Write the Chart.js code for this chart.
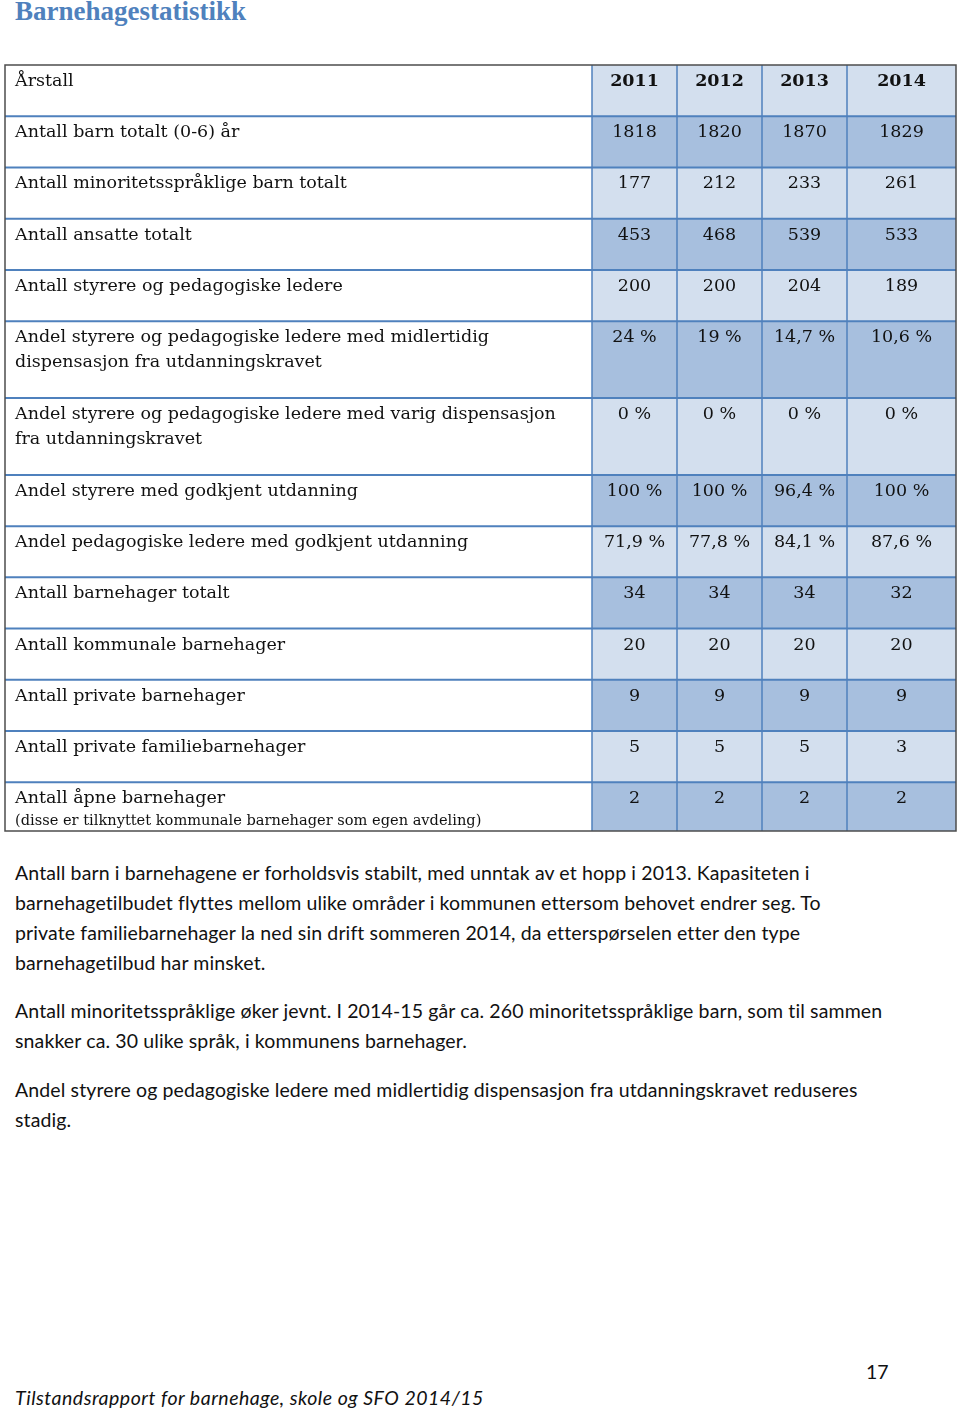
<!DOCTYPE html>
<html lang="no">
<head>
<meta charset="utf-8">
<title>Barnehagestatistikk</title>
<script src="https://cdn.jsdelivr.net/npm/chart.js@4.4.1/dist/chart.umd.min.js"></script>
<style>
  html, body { margin: 0; padding: 0; background: #fff; }
  body { position: relative; width: 960px; height: 1411px; overflow: hidden; color: #111; }
  h1 { position: absolute; left: 15px; top: -4px; margin: 0; font: bold 27px "Liberation Serif", serif; color: #4f81bd; }
  #tableBox { position: absolute; left: 4px; top: 64px; width: 953px; height: 768px; }
  .para { position: absolute; left: 15px; margin: 0; font: 19.5px Lato, sans-serif; line-height: 30px; white-space: nowrap; letter-spacing: 0.12px; }
  .foot { position: absolute; margin: 0; font: 19.5px Lato, sans-serif; line-height: 30px; white-space: nowrap; }
</style>
</head>
<body>
<h1>Barnehagestatistikk</h1>
<div id="tableBox"><canvas id="tableChart" width="953" height="768"></canvas></div>

<p class="para" style="top:858px">Antall barn i barnehagene er forholdsvis stabilt, med unntak av et hopp i 2013. Kapasiteten i<br>barnehagetilbudet flyttes mellom ulike områder i kommunen ettersom behovet endrer seg. To<br>private familiebarnehager la ned sin drift sommeren 2014, da etterspørselen etter den type<br>barnehagetilbud har minsket.</p>
<p class="para" style="top:996px">Antall minoritetsspråklige øker jevnt. I 2014-15 går ca. 260 minoritetsspråklige barn, som til sammen<br>snakker ca. 30 ulike språk, i kommunens barnehager.</p>
<p class="para" style="top:1075px">Andel styrere og pedagogiske ledere med midlertidig dispensasjon fra utdanningskravet reduseres<br>stadig.</p>

<p class="foot" style="left:866px; top:1357px">17</p>
<p class="foot" style="left:15px; top:1383px; font-style:italic; letter-spacing:0.5px">Tilstandsrapport for barnehage, skole og SFO 2014/15</p>

<script>
const headerLabel = 'Årstall';
const years = ['2011', '2012', '2013', '2014'];

const rowLabels = [
  ['Antall barn totalt (0-6) år'],
  ['Antall minoritetsspråklige barn totalt'],
  ['Antall ansatte totalt'],
  ['Antall styrere og pedagogiske ledere'],
  ['Andel styrere og pedagogiske ledere med midlertidig', 'dispensasjon fra utdanningskravet'],
  ['Andel styrere og pedagogiske ledere med varig dispensasjon', 'fra utdanningskravet'],
  ['Andel styrere med godkjent utdanning'],
  ['Andel pedagogiske ledere med godkjent utdanning'],
  ['Antall barnehager totalt'],
  ['Antall kommunale barnehager'],
  ['Antall private barnehager'],
  ['Antall private familiebarnehager'],
  ['Antall åpne barnehager']
];
const lastRowNote = '(disse er tilknyttet kommunale barnehager som egen avdeling)';

const percentRows = [false, false, false, false, true, true, true, true, false, false, false, false, false];

const values2011 = [1818, 177, 453, 200, 24, 0, 100, 71.9, 34, 20, 9, 5, 2];
const values2012 = [1820, 212, 468, 200, 19, 0, 100, 77.8, 34, 20, 9, 5, 2];
const values2013 = [1870, 233, 539, 204, 14.7, 0, 96.4, 84.1, 34, 20, 9, 5, 2];
const values2014 = [1829, 261, 533, 189, 10.6, 0, 100, 87.6, 32, 20, 9, 3, 2];
const seriesValues = [values2011, values2012, values2013, values2014];

// table layout: column edges in px units, row heights in "row" units (header first)
const colEdges = [0, 587, 672, 757, 842, 951];
const rowUnits = [1, 1, 1, 1, 1, 1.5, 1.5, 1, 1, 1, 1, 1, 1, 0.95];

const rowStart = [0];
rowUnits.forEach((u, i) => rowStart.push(rowStart[i] + u));
const totalUnits = rowStart[rowStart.length - 1];

const lightFill = '#d3dfee';
const darkFill = '#a7bfde';
const gridBlue = '#4f81bd';
const borderGray = '#4d4d4d';

function fmt(v, pct) {
  const s = String(v).replace('.', ',');
  return pct ? s + ' %' : s;
}

const tablePlugin = {
  id: 'tableCells',
  beforeDatasetsDraw(chart) {
    const ctx = chart.ctx;
    const x = chart.scales.x;
    const y = chart.scales.y;
    const left = x.getPixelForValue(colEdges[0]);
    const right = x.getPixelForValue(colEdges[colEdges.length - 1]);
    const top = y.getPixelForValue(0);
    const bottom = y.getPixelForValue(totalUnits);

    ctx.save();
    // cell fills
    for (let r = 0; r < rowUnits.length; r++) {
      const y0 = y.getPixelForValue(rowStart[r]);
      const y1 = y.getPixelForValue(rowStart[r + 1]);
      ctx.fillStyle = r % 2 === 0 ? lightFill : darkFill;
      for (let c = 1; c < colEdges.length - 1; c++) {
        const x0 = x.getPixelForValue(colEdges[c]);
        const x1 = x.getPixelForValue(colEdges[c + 1]);
        ctx.fillRect(x0, y0, x1 - x0, y1 - y0);
      }
    }

    // grid lines
    ctx.strokeStyle = gridBlue;
    ctx.lineWidth = 2;
    for (let r = 1; r < rowUnits.length; r++) {
      const yy = y.getPixelForValue(rowStart[r]);
      ctx.beginPath();
      ctx.moveTo(left, yy);
      ctx.lineTo(right, yy);
      ctx.stroke();
    }
    ctx.lineWidth = 1.5;
    for (let c = 1; c < colEdges.length - 1; c++) {
      const xx = x.getPixelForValue(colEdges[c]);
      ctx.beginPath();
      ctx.moveTo(xx, top);
      ctx.lineTo(xx, bottom);
      ctx.stroke();
    }

    // outer border
    ctx.strokeStyle = borderGray;
    ctx.lineWidth = 1.5;
    ctx.strokeRect(left, top, right - left, bottom - top);

    // text
    ctx.fillStyle = '#111';
    ctx.textBaseline = 'alphabetic';
    const labelX = left + 10;
    const allLabels = [[headerLabel]].concat(rowLabels);
    ctx.font = '17.5px "DejaVu Serif"';
    ctx.textAlign = 'left';
    allLabels.forEach((lines, r) => {
      const y0 = y.getPixelForValue(rowStart[r]);
      lines.forEach((line, k) => ctx.fillText(line, labelX, y0 + 21 + k * 24.5));
    });
    const lastTop = y.getPixelForValue(rowStart[rowUnits.length - 1]);
    ctx.font = '14.6px "DejaVu Serif"';
    ctx.fillText(lastRowNote, labelX, lastTop + 42.5);

    ctx.textAlign = 'center';
    years.forEach((yr, c) => {
      const meta = chart.getDatasetMeta(c);
      const cx = (x.getPixelForValue(colEdges[c + 1]) + x.getPixelForValue(colEdges[c + 2])) / 2;
      ctx.font = 'bold 17.5px "DejaVu Serif"';
      ctx.fillText(yr, cx, top + 21);
      ctx.font = '17.5px "DejaVu Serif"';
      meta.data.forEach((el, r) => {
        const y0 = y.getPixelForValue(rowStart[r + 1]);
        ctx.fillText(fmt(seriesValues[c][r], percentRows[r]), el.x, y0 + 21);
      });
    });
    ctx.restore();
  }
};

new Chart(document.getElementById('tableChart'), {
  type: 'scatter',
  data: {
    datasets: years.map((yr, c) => ({
      label: yr,
      data: seriesValues[c].map((v, r) => ({
        x: (colEdges[c + 1] + colEdges[c + 2]) / 2,
        y: (rowStart[r + 1] + rowStart[r + 2]) / 2
      })),
      pointRadius: 0
    }))
  },
  options: {
    responsive: false,
    animation: false,
    events: [],
    layout: { padding: { left: 1, right: 1, top: 1, bottom: 1 } },
    plugins: { legend: { display: false }, tooltip: { enabled: false } },
    scales: {
      x: { type: 'linear', display: false, min: colEdges[0], max: colEdges[colEdges.length - 1] },
      y: { type: 'linear', display: false, reverse: true, min: 0, max: totalUnits }
    }
  },
  plugins: [tablePlugin]
});
</script>
</body>
</html>
